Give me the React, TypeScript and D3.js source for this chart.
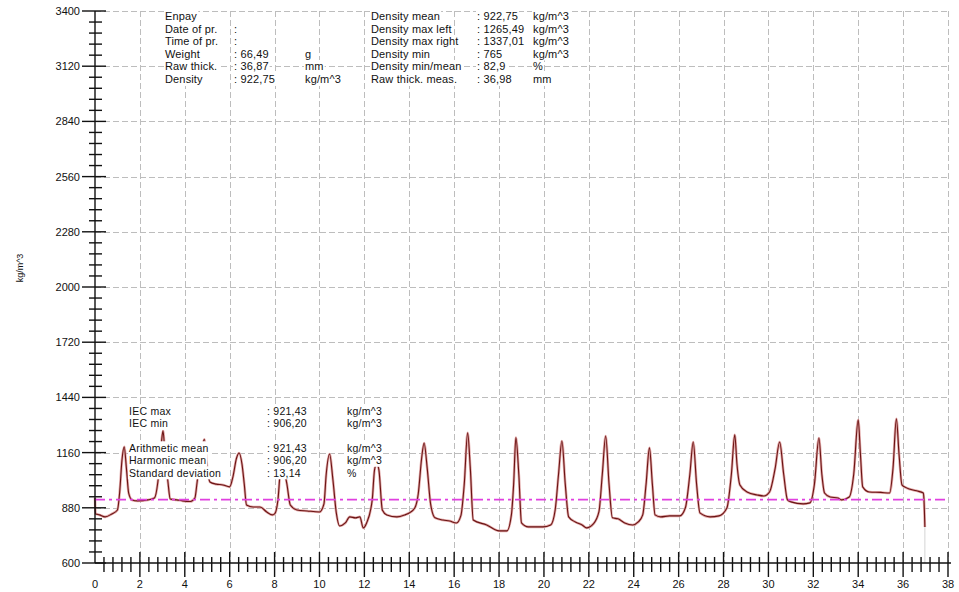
import React, { useEffect, useRef } from "react";
import * as d3 from "d3";

const W = 959;
const H = 592;

// Density profile (position in mm, density in kg/m^3)
const profileX = [
  0.0, 0.02, 0.2, 0.45, 0.75, 1.0, 1.1, 1.2, 1.3, 1.4, 1.5, 1.65, 1.9, 2.35, 2.65, 2.8, 2.95, 3.03, 3.12, 3.25,
  3.35, 3.65, 3.9, 4.25, 4.45, 4.55, 4.72, 4.87, 5.0, 5.12, 5.4, 5.7, 6.0, 6.15, 6.3, 6.42, 6.55, 6.65, 6.75, 7.05,
  7.35, 7.65, 7.9, 8.0, 8.15, 8.25, 8.35, 8.45, 8.55, 8.7, 9.0, 9.45, 10.0, 10.2, 10.3, 10.45, 10.6, 10.75, 10.9, 11.15,
  11.35, 11.6, 11.8, 11.95, 12.1, 12.35, 12.45, 12.55, 12.65, 12.8, 13.0, 13.45, 13.8, 14.0, 14.25, 14.4, 14.55, 14.66, 14.8, 14.95,
  15.15, 15.5, 15.8, 16.1, 16.3, 16.45, 16.6, 16.72, 16.85, 17.45, 18.0, 18.35, 18.55, 18.65, 18.75, 18.88, 19.0, 19.3, 19.95, 20.3,
  20.5, 20.65, 20.8, 20.95, 21.1, 21.4, 21.7, 21.9, 22.2, 22.45, 22.6, 22.75, 22.9, 23.05, 23.3, 23.6, 23.95, 24.2, 24.4, 24.55,
  24.7, 24.83, 24.95, 25.2, 25.6, 26.05, 26.3, 26.5, 26.65, 26.8, 26.95, 27.4, 27.8, 28.15, 28.35, 28.5, 28.6, 28.73, 29.05, 29.5,
  29.8, 30.05, 30.3, 30.5, 30.68, 30.85, 31.0, 31.55, 31.85, 32.05, 32.25, 32.38, 32.5, 32.75, 33.1, 33.25, 33.6, 33.8, 34.0, 34.1,
  34.2, 34.5, 35.0, 35.4, 35.55, 35.7, 35.82, 35.95, 36.15, 36.6, 36.9, 36.93, 36.97,
];
const profileY = [
  930, 850, 844, 834, 849, 869, 960, 1120, 1189, 1080, 955, 920, 915, 920, 930, 1011, 1200, 1270, 1150, 1011,
  925, 920, 915, 912, 930, 1011, 1150, 1228, 1080, 1011, 1000, 996, 986, 1040, 1130, 1158, 1100, 1000, 894, 884,
  884, 859, 844, 849, 920, 1060, 1110, 1060, 1000, 894, 869, 864, 859, 900, 1050, 1153, 1021, 854, 788, 803,
  834, 829, 834, 778, 803, 920, 1070, 1105, 1070, 869, 844, 834, 844, 854, 880, 950, 1130, 1209, 1080, 900,
  829, 818, 813, 803, 840, 1000, 1260, 1080, 818, 793, 763, 763, 844, 1000, 1236, 1050, 803, 783, 783, 793,
  869, 1050, 1219, 1000, 834, 808, 793, 778, 798, 860, 1050, 1244, 1000, 829, 824, 803, 793, 808, 844, 1000,
  1184, 1000, 844, 834, 839, 839, 880, 1050, 1214, 1000, 854, 834, 839, 879, 1050, 1250, 1100, 996, 960, 945,
  940, 960, 1080, 1214, 1050, 920, 910, 900, 905, 1000, 1234, 1050, 955, 935, 930, 920, 935, 1050, 1326, 1150,
  986, 960, 958, 955, 1080, 1331, 1150, 996, 981, 966, 955, 920, 783,
];

const meanDensity = 921.43;
const xMajorTicks = d3.range(0, 39, 2);
const xMinorTicks = d3.range(0, 38.001, 0.4);
const yMajorTicks = [600, 880, 1160, 1440, 1720, 2000, 2280, 2560, 2840, 3120, 3400];
const yMinorTicks = d3.range(600, 3401, 56);

const headLeftLabels = ["Enpay", "Date of pr.", "Time of pr.", "Weight", "Raw thick.", "Density"];
const headLeftValues = ["", ":", ":", ": 66,49", ": 36,87", ": 922,75"];
const headLeftUnits = ["", "", "", "g", "mm", "kg/m^3"];

const headRightLabels = ["Density mean", "Density max left", "Density max right", "Density min", "Density min/mean", "Raw thick. meas."];
const headRightValues = [": 922,75", ": 1265,49", ": 1337,01", ": 765", ": 82,9", ": 36,98"];
const headRightUnits = ["kg/m^3", "kg/m^3", "kg/m^3", "kg/m^3", "%", "mm"];

const statLabels = ["IEC max", "IEC min", "Arithmetic mean", "Harmonic mean", "Standard deviation"];
const statValues = [": 921,43", ": 906,20", ": 921,43", ": 906,20", ": 13,14"];
const statUnits = ["kg/m^3", "kg/m^3", "kg/m^3", "kg/m^3", "%"];

const FONT = "'Liberation Sans', Arial, Helvetica, sans-serif";

export default function App() {
  const ref = useRef<SVGSVGElement | null>(null);

  useEffect(() => {
    const svg = d3.select(ref.current);
    svg.selectAll("*").remove();

    const x = d3.scaleLinear().domain([0, 38]).range([95, 948]);
    const y = d3.scaleLinear().domain([600, 3400]).range([563, 11]);

    svg.append("rect").attr("width", W).attr("height", H).attr("fill", "#fff");

    // grid
    const grid = svg.append("g").attr("stroke", "#bdbdbd").attr("stroke-width", 1).attr("stroke-dasharray", "6,3").attr("fill", "none");
    yMajorTicks.filter((v) => v > 600).forEach((v) => {
      grid.append("line").attr("x1", x(0)).attr("x2", x(38)).attr("y1", Math.round(y(v)) + 0.5).attr("y2", Math.round(y(v)) + 0.5);
    });
    xMajorTicks.filter((v) => v > 0).forEach((v) => {
      grid.append("line").attr("x1", Math.round(x(v)) + 0.5).attr("x2", Math.round(x(v)) + 0.5).attr("y1", y(3400)).attr("y2", y(600));
    });

    // curve
    const pts: [number, number][] = profileX.map((px, i) => [px, profileY[i]]);
    const line = d3
      .line<[number, number]>()
      .x((d) => x(d[0]))
      .y((d) => y(d[1]))
      .curve(d3.curveMonotoneX);

    const last = pts[pts.length - 1];
    svg.append("line").attr("x1", x(last[0])).attr("x2", x(last[0])).attr("y1", y(last[1])).attr("y2", y(600)).attr("stroke", "#d4d4d4").attr("stroke-width", 1);

    svg.append("path").attr("d", line(pts)).attr("fill", "none").attr("stroke", "#e2a8a8").attr("stroke-width", 2.6).attr("stroke-linejoin", "round");
    svg.append("path").attr("d", line(pts)).attr("fill", "none").attr("stroke", "#6a1414").attr("stroke-width", 1.1).attr("stroke-linejoin", "round");

    // mean line
    svg
      .append("line")
      .attr("x1", x(0))
      .attr("x2", x(38))
      .attr("y1", y(meanDensity))
      .attr("y2", y(meanDensity))
      .attr("stroke", "#e040e0")
      .attr("stroke-width", 1.6)
      .attr("stroke-dasharray", "10,4,3,4");

    // texts with white boxes
    const textLayer = svg.append("g");
    const addText = (tx: number, cy: number, str: string, size: number, ls: number) => {
      if (!str) return;
      const g = textLayer.append("g");
      const rect = g.append("rect").attr("fill", "#fff");
      const t = g
        .append("text")
        .attr("x", tx)
        .attr("y", cy + size * 0.36)
        .attr("font-family", FONT)
        .attr("font-size", size)
        .attr("letter-spacing", ls)
        .attr("fill", "#111")
        .text(str);
      const bb = (t.node() as SVGTextElement).getBBox();
      rect.attr("x", bb.x - 1).attr("y", bb.y - 0.5).attr("width", bb.width + 2).attr("height", bb.height + 1);
    };

    const headRows = [16, 29, 41.5, 54, 66.5, 79.5];
    headRows.forEach((cy, i) => {
      addText(165, cy, headLeftLabels[i], 11, 0.15);
      addText(234, cy, headLeftValues[i], 11, 0.15);
      addText(305, cy, headLeftUnits[i], 11, 0.15);
      addText(371, cy, headRightLabels[i], 11, 0.15);
      addText(477, cy, headRightValues[i], 11, 0.15);
      addText(533, cy, headRightUnits[i], 11, 0.15);
    });

    const statRows = [411, 423.5, 448, 460.5, 473];
    statRows.forEach((cy, i) => {
      addText(129, cy, statLabels[i], 10.5, 0.25);
      addText(267, cy, statValues[i], 10.5, 0.25);
      addText(347, cy, statUnits[i], 10.5, 0.25);
    });

    // axes
    const ax = svg.append("g").attr("stroke", "#111").attr("stroke-width", 1.4);
    ax.append("line").attr("x1", x(0)).attr("x2", x(0)).attr("y1", y(3400)).attr("y2", y(600));
    ax.append("line").attr("x1", x(0)).attr("x2", 951).attr("y1", y(600)).attr("y2", y(600));

    yMinorTicks.forEach((v) => {
      const isMajor = yMajorTicks.includes(v);
      ax.append("line")
        .attr("x1", isMajor ? 82 : 89)
        .attr("x2", isMajor ? 106 : 102)
        .attr("y1", y(v))
        .attr("y2", y(v));
    });
    xMinorTicks.forEach((v) => {
      const isMajor = Math.abs(v / 2 - Math.round(v / 2)) < 1e-6;
      if (v === 0) return;
      ax.append("line")
        .attr("x1", x(v))
        .attr("x2", x(v))
        .attr("y1", isMajor ? 552 : 557)
        .attr("y2", isMajor ? 577 : 572);
    });

    const labels = svg.append("g").attr("font-family", FONT).attr("font-size", 11).attr("fill", "#111");
    yMajorTicks.forEach((v) => {
      labels.append("text").attr("x", 80).attr("y", y(v) + 4).attr("text-anchor", "end").text(String(v));
    });
    xMajorTicks.forEach((v) => {
      labels.append("text").attr("x", x(v)).attr("y", 588).attr("text-anchor", "middle").text(String(v));
    });

    svg
      .append("text")
      .attr("transform", `translate(23,268) rotate(-90)`)
      .attr("text-anchor", "middle")
      .attr("font-family", FONT)
      .attr("font-size", 9)
      .attr("fill", "#111")
      .text("kg/m^3");
  }, []);

  return <svg ref={ref} width={W} height={H} style={{ position: "absolute", left: 0, top: 0 }} />;
}
